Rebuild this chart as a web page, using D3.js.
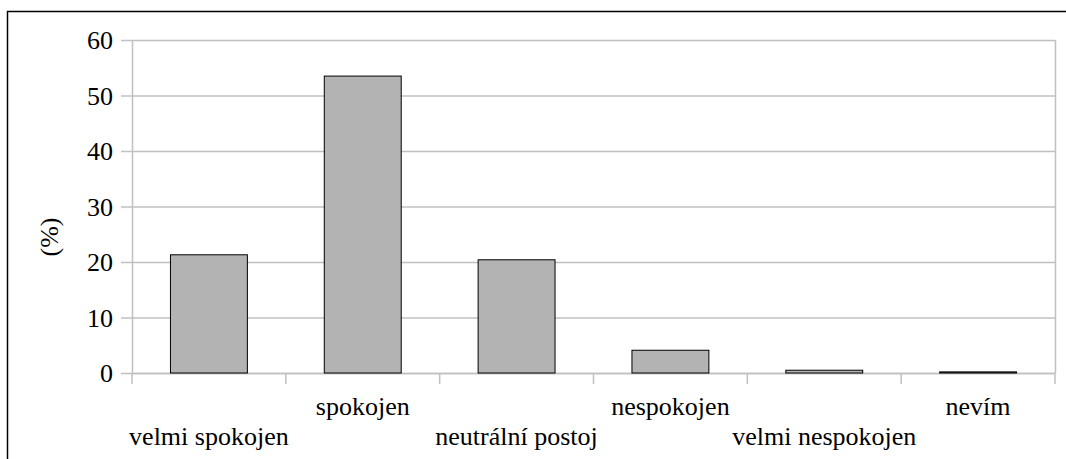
<!DOCTYPE html>
<html><head><meta charset="utf-8">
<script src="https://cdn.jsdelivr.net/npm/d3@7"></script>
<style>body{margin:0;background:#fff}svg{display:block}</style>
</head><body>
<svg id="c" width="1066" height="459"></svg>
<script>
const categories = ["velmi spokojen","spokojen","neutrální postoj","nespokojen","velmi nespokojen","nevím"];
const values = [21.3, 53.5, 20.4, 4.1, 0.5, 0.2];
const yTicks = [0,10,20,30,40,50,60];
const yLabel = "(%)";

const svg = d3.select("#c");
const F = "Liberation Serif";
const L = 132, R = 1055, T = 40, B = 373;

svg.append("rect").attr("x",7.5).attr("y",11.5).attr("width",1070).attr("height",460)
  .attr("fill","none").attr("stroke","#000").attr("stroke-width",1.5);

const x = d3.scaleBand().domain(categories).range([L,R]).paddingInner(0.5).paddingOuter(0.25);
const y = d3.scaleLinear().domain([0,60]).range([B,T]);

svg.append("g").selectAll("line").data(yTicks).join("line")
  .attr("x1",L).attr("x2",R).attr("y1",d=>y(d)+0.5).attr("y2",d=>y(d)+0.5)
  .attr("stroke","#c0c0c0").attr("stroke-width",1.5);
svg.append("line").attr("x1",R+0.5).attr("x2",R+0.5).attr("y1",T).attr("y2",B)
  .attr("stroke","#c0c0c0").attr("stroke-width",1.5);

const ya = svg.append("g").attr("transform",`translate(${L},0)`)
  .call(d3.axisLeft(y).tickValues(yTicks).tickSize(11).tickPadding(8).tickSizeOuter(0));
ya.attr("font-family",F).attr("font-size",26);
ya.select(".domain").attr("stroke","#c0c0c0").attr("stroke-width",1.5);
ya.selectAll(".tick line").attr("stroke","#c0c0c0").attr("stroke-width",1.5);
ya.selectAll("text").attr("fill","#000").attr("dy","0.34em");

const xa = svg.append("g").attr("transform",`translate(0,${B})`);
xa.append("line").attr("x1",L).attr("x2",R).attr("y1",0.5).attr("y2",0.5).attr("stroke","#c0c0c0").attr("stroke-width",1.5);
const bounds = d3.range(categories.length+1).map(i=>L + i*(R-L)/categories.length);
xa.selectAll("line.t").data(bounds).join("line").attr("class","t")
  .attr("x1",d=>d).attr("x2",d=>d).attr("y1",0).attr("y2",11)
  .attr("stroke","#c0c0c0").attr("stroke-width",1.5);
xa.selectAll("text").data(categories).join("text")
  .attr("x",d=>x(d)+x.bandwidth()/2)
  .attr("y",(d,i)=> i%2===0 ? 72 : 42)
  .attr("text-anchor","middle").attr("font-family",F).attr("font-size",26).attr("fill","#000")
  .text(d=>d);

svg.append("g").selectAll("rect").data(values).join("rect")
  .attr("x",(d,i)=>x(categories[i])).attr("width",x.bandwidth())
  .attr("y",d=>y(d)).attr("height",d=>B-y(d))
  .attr("fill","#b3b3b3").attr("stroke","#000").attr("stroke-width",1);

svg.append("text").attr("transform",`translate(58,237) rotate(-90)`)
  .attr("text-anchor","middle").attr("font-family",F).attr("font-size",26).attr("fill","#000").text(yLabel);
</script>
</body></html>
